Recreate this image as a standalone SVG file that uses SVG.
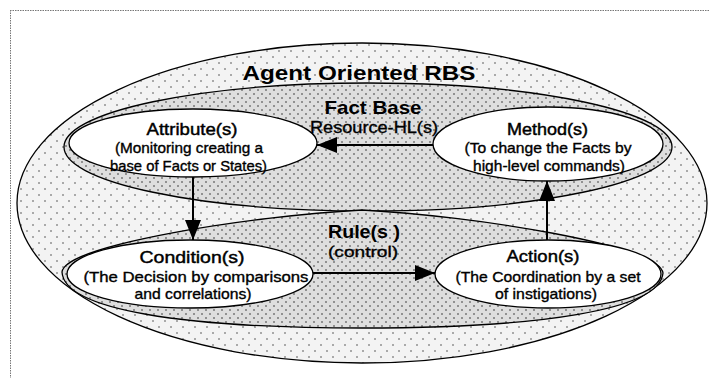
<svg xmlns="http://www.w3.org/2000/svg" width="710" height="378" viewBox="0 0 710 378">
<style>
  .t { font-family: "Liberation Sans", Arial, sans-serif; fill: #000; text-anchor: middle; }
  .big { font-size: 21px; font-weight: bold; }
  .hd { font-size: 19px; font-weight: bold; }
  .ti { font-size: 17px; font-weight: normal; stroke: #000; stroke-width: 0.45; }
  .sub { font-size: 14.5px; font-weight: normal; stroke: #000; stroke-width: 0.35; }
  .node { fill: #fff; stroke: #000; stroke-width: 1.3; }
  .cont { stroke: #000; stroke-width: 1.3; }
  .conn { stroke: #000; stroke-width: 2; fill: none; marker-end: url(#arr); }
</style>
<defs>
  <pattern id="sparse" width="12" height="12" patternUnits="userSpaceOnUse">
    <rect width="12" height="12" fill="#f3f3f3"/>
    <path d="M2,2 l2,2 M4,2 l-2,2 M8,8 l2,2 M10,8 l-2,2" stroke="#a0a0a0" stroke-width="0.9"/>
  </pattern>
  <pattern id="dense" width="8" height="8" patternUnits="userSpaceOnUse">
    <rect width="8" height="8" fill="#dedede"/>
    <path d="M1,1 l2,2 M3,1 l-2,2 M5,5 l2,2 M7,5 l-2,2" stroke="#888" stroke-width="0.9"/>
  </pattern>
  <marker id="arr" viewBox="0 0 20 16" refX="20" refY="8" markerWidth="20" markerHeight="16" markerUnits="userSpaceOnUse" orient="auto">
    <path d="M0,0 L20,8 L0,16 Z" fill="#000"/>
  </marker>
</defs>
<rect x="0" y="0" width="710" height="378" fill="#fff"/>
<path d="M10,10.5 H710 M10.5,10 V378" stroke="#777" stroke-width="1" stroke-dasharray="1.5,1" fill="none"/>

<g id="agent-oriented-rbs">
  <ellipse class="cont" cx="362" cy="203" rx="345" ry="160" fill="url(#sparse)"/>
  <text class="t big" x="359" y="80" textLength="233" lengthAdjust="spacingAndGlyphs">Agent Oriented RBS</text>
</g>

<g id="fact-base">
  <ellipse class="cont" cx="368" cy="147" rx="304" ry="64" fill="url(#dense)"/>
  <text class="t hd" x="373" y="114" textLength="97" lengthAdjust="spacingAndGlyphs">Fact Base</text>
  <text class="t sub" x="374" y="133" style="font-size:16px" textLength="128" lengthAdjust="spacingAndGlyphs">Resource-HL(s)</text>
</g>

<g id="rules">
  <path class="cont" fill="url(#dense)" d="M62,272 C65,245 250,216 362,210 C474,216 659,245 663,273 C660,310 540,328 362,328 C184,328 64,310 62,272 Z"/>
  <text class="t hd" x="364" y="238" textLength="72" lengthAdjust="spacingAndGlyphs">Rule(s )</text>
  <text class="t sub" x="363" y="257" style="font-size:15px" textLength="70" lengthAdjust="spacingAndGlyphs">(control)</text>
</g>

<g id="attribute">
  <ellipse class="node" cx="193" cy="143" rx="124" ry="34"/>
  <text class="t ti" x="192" y="135" textLength="91" lengthAdjust="spacingAndGlyphs">Attribute(s)</text>
  <text class="t sub" x="189" y="153" textLength="148" lengthAdjust="spacingAndGlyphs">(Monitoring creating a</text>
  <text class="t sub" x="188.5" y="171" textLength="157" lengthAdjust="spacingAndGlyphs">base of Facts or States)</text>
</g>

<g id="method">
  <ellipse class="node" cx="548" cy="144" rx="115" ry="37"/>
  <text class="t ti" x="547.5" y="135" textLength="81" lengthAdjust="spacingAndGlyphs">Method(s)</text>
  <text class="t sub" x="548" y="153" textLength="167" lengthAdjust="spacingAndGlyphs">(To change the Facts by</text>
  <text class="t sub" x="549" y="171" textLength="152" lengthAdjust="spacingAndGlyphs">high-level commands)</text>
</g>

<g id="condition">
  <ellipse class="node" cx="190" cy="274" rx="123" ry="34"/>
  <text class="t ti" x="192" y="263" textLength="105" lengthAdjust="spacingAndGlyphs">Condition(s)</text>
  <text class="t sub" x="196" y="282" textLength="225" lengthAdjust="spacingAndGlyphs">(The Decision by comparisons</text>
  <text class="t sub" x="193" y="299" textLength="117" lengthAdjust="spacingAndGlyphs">and correlations)</text>
</g>

<g id="action">
  <ellipse class="node" cx="548" cy="274" rx="113" ry="34"/>
  <text class="t ti" x="543" y="262" textLength="73" lengthAdjust="spacingAndGlyphs">Action(s)</text>
  <text class="t sub" x="548" y="282" textLength="185" lengthAdjust="spacingAndGlyphs">(The Coordination by a set</text>
  <text class="t sub" x="546" y="299" textLength="102" lengthAdjust="spacingAndGlyphs">of instigations)</text>
</g>

<g id="connectors">
  <line class="conn" x1="433" y1="145" x2="317" y2="145"/>
  <line class="conn" x1="193" y1="177" x2="193" y2="240"/>
  <line class="conn" x1="313" y1="273" x2="435" y2="273"/>
  <line class="conn" x1="547" y1="240" x2="547" y2="181"/>
</g>
</svg>
